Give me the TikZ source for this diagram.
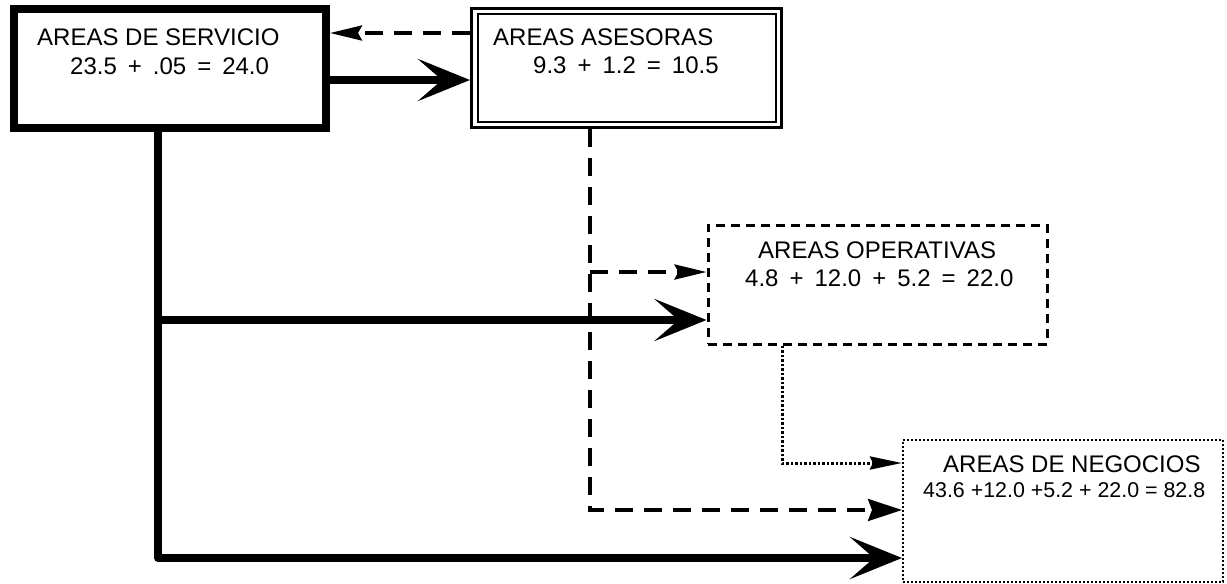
\documentclass[tikz,border=0pt]{standalone}
\usepackage{fontspec}
\setmainfont{Liberation Sans}
\usetikzlibrary{arrows.meta}
\newcommand\hs{\hspace{11pt}}
\begin{document}
\begin{tikzpicture}[x=1pt,y=-1pt,
  box/.style={draw, inner sep=0pt, anchor=north west},
  txt/.style={anchor=base west, inner sep=0pt, font=\fontsize{24}{28}\selectfont},
  smalltxt/.style={anchor=base west, inner sep=0pt, font=\fontsize{21.4}{25}\selectfont},
  solidline/.style={line width=7.5pt, line join=round},
  bigtip/.style={-{Stealth[length=52pt,width=42pt,inset=24pt]}},
  dashline/.style={line width=3.5pt, dash pattern=on 18pt off 11pt},
  dashtip/.style={-{Stealth[length=32pt,width=15pt,inset=4pt]}},
  dashtipB/.style={-{Stealth[length=34pt,width=22pt,inset=4pt]}},
  dotline/.style={line width=3pt, dash pattern=on 2.5pt off 2pt},
  dottip/.style={-{Stealth[length=32pt,width=13pt,inset=3pt]}}
]
\useasboundingbox (0,0) rectangle (1227,584);

% boxes
\node[box, line width=8pt, minimum width=312pt, minimum height=119pt] (sv) at (10,5) {};
\node[box, line width=3pt, minimum width=310pt, minimum height=119pt] (as) at (470,7) {};
\draw[line width=2pt] ([shift={(8pt,-7pt)}]as.north west) rectangle ([shift={(-7pt,7pt)}]as.south east);
\node[box, line width=3pt, dash pattern=on 9pt off 6pt, minimum width=339pt, minimum height=119pt] (op) at (706.5,223.5) {};
\node[box, line width=2pt, dash pattern=on 2pt off 2pt, minimum width=320pt, minimum height=142pt] (ng) at (902,439) {};

% texts
\node[txt] (svt) at (37,45) {AREAS DE SERVICIO};
\node[txt] (svn) at (70,74) {23.5\hs+\hs.05\hs=\hs24.0};
\node[txt] (ast) at (493,45) {AREAS ASESORAS};
\node[txt] (asn) at (533,73) {9.3\hs+\hs1.2\hs=\hs10.5};
\node[txt] (opt) at (758,258) {AREAS OPERATIVAS};
\node[txt] (opn) at (745,286) {4.8\hs+\hs12.0\hs+\hs5.2\hs=\hs22.0};
\node[txt] (ngt) at (943,472) {AREAS DE NEGOCIOS};
\node[smalltxt] (ngn) at (923,497) {43.6 +12.0 +5.2 + 22.0 = 82.8};

% coordinates for vertical trunks
\coordinate (sx) at (158,0);
\coordinate (dx) at (590,0);
\coordinate (px) at (782,0);

% top connectors
\draw[dashline, dashtip] (as.west |- 0,33) -- (sv.east |- 0,33);
\draw[solidline, bigtip] (sv.east |- 0,80) -- (as.west |- 0,80);

% solid trunk
\draw[solidline, bigtip] (sx |- sv.south) -- (sx |- 0,558) -- (ng.west |- 0,558);
\draw[solidline, bigtip] (sx |- 0,320) -- (op.west |- 0,320);

% dashed trunk
\draw[dashline, dashtipB] (dx |- as.south) -- (dx |- 0,510) -- (ng.west |- 0,510);
\draw[dashline, dashtip] (dx |- 0,272) -- (op.west |- 0,272);

% dotted connector
\draw[dotline, dottip] (px |- op.south) -- (px |- 0,463) -- (ng.west |- 0,463);
\end{tikzpicture}
\end{document}
